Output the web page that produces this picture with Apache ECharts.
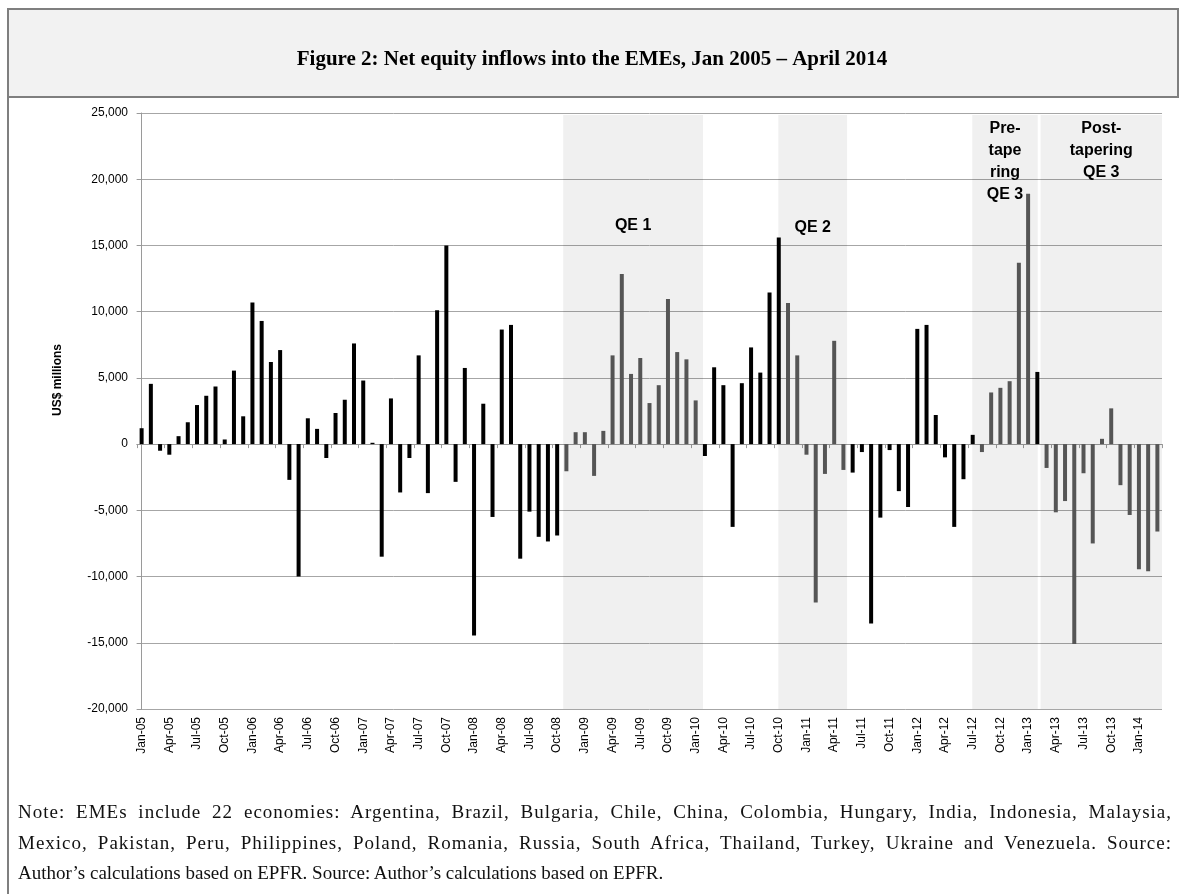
<!DOCTYPE html>
<html>
<head>
<meta charset="utf-8">
<title>Net equity inflows into the EMEs</title>
<script src="https://cdn.jsdelivr.net/npm/echarts@6/dist/echarts.min.js"></script>
<style>
body{margin:0;background:#fff}
#wrap{position:relative;width:1184px;height:894px}
#chart{position:absolute;left:0;top:0;width:1184px;height:894px}
#note{position:absolute;left:18px;top:797px;width:1154px;font:19px/30.5px "Liberation Serif",serif;color:#111}
#note div{text-align:justify;text-align-last:justify;white-space:nowrap;letter-spacing:1px}
#note div.last{text-align-last:left;letter-spacing:0}
</style>
</head>
<body>
<div id="wrap">
  <div id="chart"></div>
  <div id="note">
    <div>Note: EMEs include 22 economies: Argentina, Brazil, Bulgaria, Chile, China, Colombia, Hungary, India, Indonesia, Malaysia,</div>
    <div>Mexico, Pakistan, Peru, Philippines, Poland, Romania, Russia, South Africa, Thailand, Turkey, Ukraine and Venezuela. Source:</div>
    <div class="last">Author’s calculations based on EPFR. Source: Author’s calculations based on EPFR.</div>
  </div>
</div>
<script>
// monthly net equity inflows, US$ millions
const monthNames = ['Jan','Feb','Mar','Apr','May','Jun','Jul','Aug','Sep','Oct','Nov','Dec']
const years = ['05','06','07','08','09','10','11','12','13','14']
const y2005 = [1200, 4550, -500, -800, 600, 1650, 2950, 3650, 4350, 350, 5550, 2100]
const y2006 = [10700, 9300, 6200, 7100, -2700, -10000, 1950, 1150, -1050, 2350, 3350, 7600]
const y2007 = [4800, 100, -8500, 3450, -3650, -1050, 6700, -3700, 10100, 15000, -2850, 5750]
const y2008 = [-14450, 3050, -5500, 8650, 9000, -8650, -5100, -7000, -7350, -6900, -2050, 900]
const y2009 = [900, -2400, 1000, 6700, 12850, 5300, 6500, 3100, 4450, 10950, 6950, 6400]
const y2010 = [3300, -900, 5800, 4450, -6250, 4600, 7300, 5400, 11450, 15600, 10650, 6700]
const y2011 = [-800, -11950, -2250, 7800, -1950, -2150, -600, -13550, -5550, -450, -3550, -4750]
const y2012 = [8700, 9000, 2200, -1000, -6250, -2650, 700, -600, 3900, 4250, 4750, 13700]
const y2013 = [18900, 5450, -1800, -5150, -4300, -15100, -2200, -7500, 400, 2700, -3100, -5350]
const y2014 = [-9450, -9600, -6600]

const flows = [].concat(y2005, y2006, y2007, y2008, y2009, y2010, y2011, y2012, y2013, y2014)
const categories = flows.map((v, i) => monthNames[i % 12] + '-' + years[Math.floor(i / 12)])

// policy periods: month index of first/last grey bar, and shaded span in month units
const periodNames = ['QE 1', 'QE 2', 'Pre-\ntape\nring\nQE 3', 'Post-\ntapering\nQE 3']
const periodFirst = [46, 70, 91, 98]
const periodLast = [60, 76, 96, 110]
const shadeFrom = [45.65, 68.95, 89.95, 97.35]
const shadeTo = [60.8, 76.4, 97.05, 110.5]

const yTicks = {min: -20000, max: 25000, step: 5000}

const inPeriod = i => periodFirst.some((f, k) => i >= f && i <= periodLast[k])
const labelDrop = [100, 102, 3, 3]

const chart = echarts.init(document.getElementById('chart'))
const option = {
    animation: false,
    title: {
        text: 'Figure 2: Net equity inflows into the EMEs, Jan 2005 – April 2014',
        left: 'center',
        top: 44,
        z: 10,
        textStyle: {fontFamily: 'Liberation Serif', fontWeight: 'bold', fontSize: 21, color: '#000'}
    },
    graphic: [
        {type: 'rect', z: 0, shape: {x: 8, y: 9, width: 1170, height: 88},
         style: {fill: '#f2f2f2', stroke: '#7f7f7f', lineWidth: 2}},
        {type: 'line', z: 0, shape: {x1: 8, y1: 97, x2: 8, y2: 894},
         style: {stroke: '#7f7f7f', lineWidth: 2}},
        {type: 'text', z: 10, x: 58, y: 380, rotation: Math.PI / 2,
         style: {text: 'US$ millions', x: 0, y: 0, align: 'center', verticalAlign: 'middle',
                 font: 'bold 12px "Liberation Sans"', fill: '#000'}}
    ],
    grid: {left: 137, right: 22, top: 113, bottom: 185},
    xAxis: [
        {
            type: 'category', data: categories, position: 'bottom',
            axisLine: {show: false, onZero: false}, axisTick: {show: false},
            axisLabel: {interval: 2, rotate: 90, margin: 8, fontSize: 12,
                        fontFamily: 'Liberation Sans', color: '#000'}
        },
        {
            type: 'category', data: categories, position: 'bottom',
            axisLine: {show: true, onZero: true, lineStyle: {color: '#9a9a9a', width: 1}},
            axisTick: {show: true, interval: 2, length: 4, lineStyle: {color: '#9a9a9a'}},
            axisLabel: {show: false}
        },
        {type: 'value', min: -0.5, max: flows.length - 0.5, show: false}
    ],
    yAxis: {
        type: 'value', min: yTicks.min, max: yTicks.max, interval: yTicks.step,
        axisLine: {show: true, lineStyle: {color: '#9a9a9a'}},
        axisTick: {show: true, length: 5, lineStyle: {color: '#9a9a9a'}},
        axisLabel: {margin: 9, fontSize: 12, fontFamily: 'Liberation Sans', color: '#000',
                    formatter: v => v.toLocaleString('en-US')},
        splitLine: {lineStyle: {color: '#a6a6a6', width: 1}}
    },
    series: [
        {
            type: 'line', xAxisIndex: 2, z: 1, data: [], silent: true,
            markArea: {
                silent: true,
                itemStyle: {color: 'rgba(0,0,0,0.06)'},
                label: {position: 'insideTop', fontFamily: 'Liberation Sans', fontWeight: 'bold',
                        fontSize: 16, lineHeight: 22, color: '#000'},
                data: periodNames.map((name, k) => [
                    {name: name, xAxis: shadeFrom[k], yAxis: yTicks.min,
                     label: {distance: labelDrop[k]}},
                    {xAxis: shadeTo[k], yAxis: yTicks.max - 150}
                ])
            }
        },
        {
            type: 'bar', xAxisIndex: 0, z: 3, barWidth: 4,
            data: flows.map((v, i) => ({value: v, itemStyle: {color: inPeriod(i) ? '#555' : '#000'}}))
        }
    ]
}
chart.setOption(option)
</script>
</body>
</html>
